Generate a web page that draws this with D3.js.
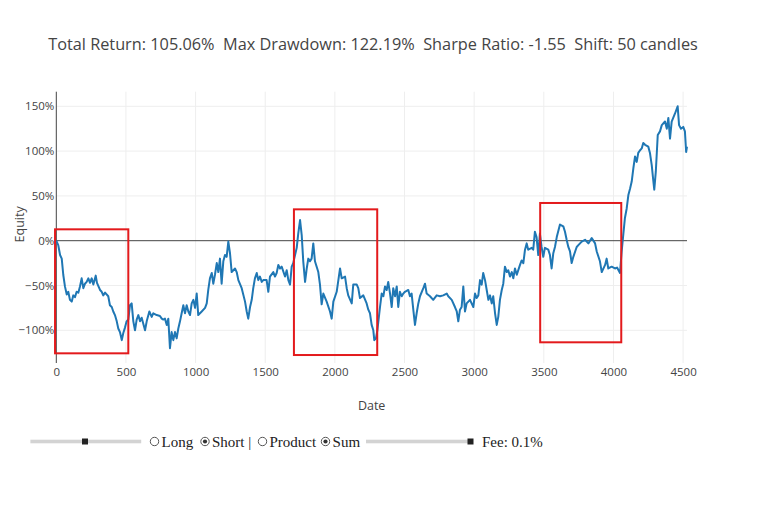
<!DOCTYPE html>
<html><head><meta charset="utf-8">
<script src="https://cdn.jsdelivr.net/npm/d3@7"></script>
<style>
body{margin:0;background:#fff;}
svg{display:block;}
</style>
</head><body>
<svg id="chart" width="758" height="527"></svg>
<script>
// ---------------- data ----------------
const titleText = "Total Return: 105.06%  Max Drawdown: 122.19%  Sharpe Ratio: -1.55  Shift: 50 candles";
const xTitle = "Date";
const yTitle = "Equity";
const xTicks = [0, 500, 1000, 1500, 2000, 2500, 3000, 3500, 4000, 4500];
const yTicks = [-100, -50, 0, 50, 100, 150];

const candle = [
  0,14,27,39,50,62,75,86,98,111,122,134,146,158,170,182,194,206,218,230,
  242,254,266,283,292,314,326,337,350,373,385,398,409,421,434,445,457,470,481,493,
  505,517,529,541,553,565,577,589,601,613,637,649,668,685,696,721,744,
  757,768,780,793,804,816,828,840,852,864,876,888,900,912,924,936,948,960,972,984,
  996,1008,1019,1044,1068,1080,1091,1103,1116,1127,1139,1152,1163,1175,1187,1199,1211,1223,1235,1247,
  1259,1283,1295,1307,1331,1355,1367,1378,1391,1403,1414,1426,1439,1450,1462,
  1475,1486,1510,1522,1534,1558,1570,1582,1594,1606,1618,1642,1654,1666,1678,1690,1701,1714,1726,1737,
  1750,1762,1773,1786,1798,1809,1821,1833,1845,1857,1881,1893,1905,1917,1941,1965,1977,1989,2013,2037,
  2049,2073,2085,2096,2121,2132,2157,2168,2180,2204,2228,2240,2252,2264,2276,2283,2295,2305,2324,
  2336,2348,2360,2372,2383,2396,2408,2419,2432,2444,2455,2467,2480,2491,2503,2527,2539,2551,2563,2575,
  2587,2599,2611,2635,2647,2659,2683,2706,2731,2755,2778,2803,2814,2839,2862,2875,2886,2898,2910,2922,
  2934,2946,2970,
  2994,3006,3018,3030,3042,3054,3065,3078,3090,3102,3114,3126,3137,3150,3162,3173,3185,3198,3209,3221,
  3234,3245,3257,3270,3281,3293,3306,3329,3341,3353,3365,3377,3388,3413,3424,3436,3448,3460,3472,3484,
  3496,3508,3532,3544,3556,3568,3580,3593,3616,3640,3652,3664,3676,3688,3700,3712,3736,
  3748,3772,3796,3820,3844,3868,3880,3903,3916,3940,3951,3963,3987,4011,4026,4047,4059,4070,4082,4095,
  4107,4119,4131,4143,4155,4167,4178,4191,4203,4214,4227,4250,4262,4275,4284,4293,4304,4318,4334,4347,
  4370,4383,4394,4406,4418,4442,4461,4471,4485,4501,4513,4522,4528
];
const equity = [
  0,-5,-16,-20,-38,-51,-60,-57,-66,-68,-61,-63,-57,-58,-51,-42,-53,-48,-46,-42,
  -47,-42,-49,-39,-47,-55,-57,-61,-58,-62,-72,-74,-79,-83,-90,-98,-102,-111,-103,-97,
  -90,-88,-72,-70,-90,-100,-88,-83,-90,-86,-100,-90,-79,-85,-81,-83,-84,
  -87,-88,-87,-94,-87,-120,-102,-111,-102,-109,-98,-90,-81,-72,-81,-72,-79,-83,-70,-66,
  -75,-59,-83,-79,-75,-70,-55,-42,-36,-48,-38,-25,-35,-20,-48,-23,-16,-18,-1,-14,
  -35,-31,-35,-44,-53,-68,-79,-87,-74,-66,-53,-42,-36,-44,-40,
  -46,-44,-44,-57,-40,-35,-40,-36,-27,-31,-29,-40,-33,-44,-49,-29,-25,-16,-8,8,
  23,6,-23,-46,-31,-20,-23,-20,-3,-23,-35,-49,-71,-59,-68,-79,-87,-68,-57,-31,
  -42,-40,-53,-61,-70,-49,-49,-53,-64,-61,-70,-77,-81,-94,-100,-111,-109,-100,-74,
  -59,-62,-51,-55,-46,-59,-74,-53,-62,-51,-74,-57,-62,-59,-57,-55,-62,-59,-77,-94,
  -81,-70,-62,-53,-48,-59,-62,-66,-61,-62,-61,-59,-62,-66,-74,-79,-90,-77,-74,-51,
  -79,-70,-66,
  -74,-59,-64,-61,-44,-49,-36,-44,-55,-66,-61,-70,-62,-81,-94,-85,-66,-55,-48,-29,
  -35,-33,-40,-35,-42,-31,-38,-27,-22,-25,-10,-3,-10,-8,-10,10,4,-16,8,-7,
  -18,-8,-10,-16,-31,-14,-7,4,18,16,10,1,-7,-12,-25,-18,-7,
  -5,-1,1,-3,3,-3,-12,-23,-35,-27,-20,-31,-29,-31,-30,-36,-12,6,25,36,
  51,58,66,81,94,88,98,101,103,109,107,105,98,84,70,57,77,118,122,129,
  133,125,137,114,133,142,150,129,125,127,122,99,105
];

// highlighted windows (candle range, equity range)
const boxStart = [-9, 1706, 3474];
const boxEnd   = [517, 2304, 4056];
const boxTop   = [12.7, 35, 42.1];
const boxBottom= [-125.7, -127.6, -113.4];

// ---------------- chart ----------------
const svg = d3.select("#chart");
const W = 758, H = 527;
const plot = {left: 56.3, right: 687, top: 91.7, bottom: 363};

const x = d3.scaleLinear().domain([0, d3.max(candle)]).range([plot.left, plot.right]);
const y = d3.scaleLinear().domain([-136.5, 166.3]).range([plot.bottom, plot.top]);

svg.append("rect").attr("width", W).attr("height", H).attr("fill", "#fff");

// grid
const grid = svg.append("g");
grid.selectAll("line.vx").data(xTicks.filter(d => d !== 0)).join("line")
  .attr("x1", d => x(d)).attr("x2", d => x(d))
  .attr("y1", plot.top).attr("y2", plot.bottom)
  .attr("stroke", "#eeeeee").attr("stroke-width", 1);
grid.selectAll("line.hy").data(yTicks.filter(d => d !== 0)).join("line")
  .attr("x1", plot.left).attr("x2", plot.right)
  .attr("y1", d => y(d)).attr("y2", d => y(d))
  .attr("stroke", "#eeeeee").attr("stroke-width", 1);

// zero lines
svg.append("line").attr("x1", plot.left).attr("x2", plot.right)
  .attr("y1", y(0)).attr("y2", y(0)).attr("stroke", "#444").attr("stroke-width", 1);
svg.append("line").attr("x1", x(0)).attr("x2", x(0))
  .attr("y1", plot.top).attr("y2", plot.bottom).attr("stroke", "#444").attr("stroke-width", 1);

// axes
const fmtY = d => (d < 0 ? "\u2212" + Math.abs(d) : String(d)) + "%";
const yAxis = svg.append("g").attr("transform", `translate(${plot.left},0)`)
  .call(d3.axisLeft(y).tickValues(yTicks).tickSize(0).tickPadding(2).tickFormat(fmtY));
const xAxis = svg.append("g").attr("transform", `translate(0,${plot.bottom})`)
  .call(d3.axisBottom(x).tickValues(xTicks).tickSize(0).tickPadding(5).tickFormat(d3.format("d")));
[yAxis, xAxis].forEach(a => {
  a.select(".domain").remove();
  a.selectAll("text").attr("font-family", "'Open Sans', sans-serif")
    .attr("font-size", 11.5).attr("fill", "#444");
});

// line
const line = d3.line().x((d, i) => x(candle[i])).y(d => y(d));
svg.append("path").datum(equity)
  .attr("d", line).attr("fill", "none")
  .attr("stroke", "#1f77b4").attr("stroke-width", 2).attr("stroke-linejoin", "round");

// highlight boxes
svg.selectAll("rect.box").data(boxStart).join("rect")
  .attr("x", (d, i) => x(boxStart[i]))
  .attr("y", (d, i) => y(boxTop[i]))
  .attr("width", (d, i) => x(boxEnd[i]) - x(boxStart[i]))
  .attr("height", (d, i) => y(boxBottom[i]) - y(boxTop[i]))
  .attr("fill", "none").attr("stroke", "#e31a1c").attr("stroke-width", 2);

// titles
svg.append("text").attr("x", 373).attr("y", 49.5).attr("text-anchor", "middle")
  .attr("font-family", "'Open Sans', sans-serif").attr("font-size", 16.3).attr("fill", "#444")
  .style("white-space", "pre").text(titleText);
svg.append("text").attr("x", (plot.left + plot.right) / 2).attr("y", 409.5).attr("text-anchor", "middle")
  .attr("font-family", "'Open Sans', sans-serif").attr("font-size", 12.5).attr("fill", "#444")
  .text(xTitle);
svg.append("text").attr("transform", `translate(24,${(plot.top + plot.bottom) / 2 - 3}) rotate(-90)`)
  .attr("text-anchor", "middle")
  .attr("font-family", "'Open Sans', sans-serif").attr("font-size", 12.5).attr("fill", "#444")
  .text(yTitle);

// ---------------- controls row ----------------
const ctrl = svg.append("g").attr("font-family", "'Liberation Serif', 'Times New Roman', serif")
  .attr("font-size", 15).attr("fill", "#222");
const cy = 441.5;
function slider(x0, x1, thumbX) {
  ctrl.append("rect").attr("x", x0).attr("y", cy - 1.8).attr("width", x1 - x0).attr("height", 3.6).attr("fill", "#d3d3d3");
  ctrl.append("rect").attr("x", thumbX - 3).attr("y", cy - 3).attr("width", 6).attr("height", 6).attr("fill", "#222");
}
function radio(cx, checked) {
  ctrl.append("circle").attr("cx", cx).attr("cy", cy).attr("r", 4.2)
    .attr("fill", "#fff").attr("stroke", "#555").attr("stroke-width", 1);
  if (checked) ctrl.append("circle").attr("cx", cx).attr("cy", cy).attr("r", 2.1).attr("fill", "#333");
}
function label(xp, t) {
  ctrl.append("text").attr("x", xp).attr("y", 446.5).style("white-space", "pre").text(t);
}
slider(30.4, 141.2, 85);
radio(154.5, false); label(161.5, "Long");
radio(205, true); label(212, "Short |");
radio(262.5, false); label(269.5, "Product");
radio(325.5, true); label(332.6, "Sum");
slider(366, 471.7, 470.5);
label(482, "Fee: 0.1%");
</script>
</body></html>
